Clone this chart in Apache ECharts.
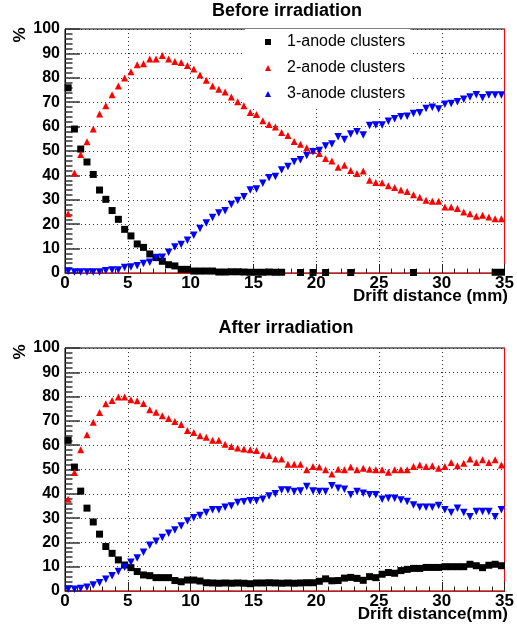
<!DOCTYPE html>
<html>
<head>
<meta charset="utf-8">
<script src="https://cdn.jsdelivr.net/npm/echarts@6/dist/echarts.min.js"></script>
<style>
  body { margin: 0; background: #fff; }
  #chart { width: 517px; height: 628px; }
</style>
</head>
<body>
<div id="chart"></div>
<script>
// bin centres of the drift distance histogram (mm)
const binCenters = [
  0.25, 0.75, 1.25, 1.75, 2.25, 2.75, 3.25, 3.75, 4.25, 4.75,
  5.25, 5.75, 6.25, 6.75, 7.25, 7.75, 8.25, 8.75, 9.25, 9.75,
  10.25, 10.75, 11.25, 11.75, 12.25, 12.75, 13.25, 13.75, 14.25, 14.75,
  15.25, 15.75, 16.25, 16.75, 17.25, 17.75, 18.25, 18.75, 19.25, 19.75,
  20.25, 20.75, 21.25, 21.75, 22.25, 22.75, 23.25, 23.75, 24.25, 24.75,
  25.25, 25.75, 26.25, 26.75, 27.25, 27.75, 28.25, 28.75, 29.25, 29.75,
  30.25, 30.75, 31.25, 31.75, 32.25, 32.75, 33.25, 33.75, 34.25, 34.75
]
const seriesNames = ['1-anode clusters', '2-anode clusters', '3-anode clusters']
const xTicks = [0, 5, 10, 15, 20, 25, 30, 35]
const yTicks = [0, 10, 20, 30, 40, 50, 60, 70, 80, 90, 100]

// before irradiation (%), null = empty bin
const beforeOne = [
  75.9, 59, 50.8, 45.5, 40.4, 34, 30.2, 25.6, 22, 17.9,
  15.2, 11.9, 10.5, 7.8, 6.3, 4.8, 3.4, 2.9, 1.5, 1.5,
  0.8, 0.8, 0.8, 0.8, 0.4, 0.4, 0.5, 0.5, 0.4, 0.3,
  0.3, 0.3, 0.4, 0.3, 0.3, null, null, 0.2, null, 0.2,
  null, 0.2, null, null, null, 0.2, null, null, null, null,
  null, null, null, null, null, 0.2, null, null, null, null,
  null, null, null, null, null, null, null, null, 0.3, 0.3
]
const beforeTwo = [
  24.3, 41, 48.6, 53.8, 59, 65.2, 68.5, 73.1, 76.6, 79.9,
  82.5, 85.3, 85.8, 87.7, 87.7, 89.1, 87.7, 86.7, 86.3, 85,
  83.6, 81.1, 79, 76.6, 75.3, 74.2, 72.1, 70.2, 68.5, 65.8,
  65, 62.4, 60.9, 59.8, 57.6, 56.4, 53.9, 52.8, 51.3, 50.2,
  49, 46.9, 45.9, 43.3, 44.2, 42, 40.8, 41.8, 38, 37.1,
  37, 35.8, 35, 34, 33.4, 32.1, 31, 29.8, 29.4, 29.4,
  27.1, 27.1, 26.4, 25, 24.3, 23.3, 23.7, 23, 22.2, 22.2
]
const beforeThree = [
  0.7, 0.4, 0.4, 0.4, 0.4, 0.4, 0.9, 1.2, 1.2, 2.3,
  2.5, 3, 3.9, 4.4, 6.4, 6.5, 8.5, 10.7, 11.7, 13.4,
  15.5, 18.2, 20.5, 22.7, 24.6, 25.5, 28.1, 29.7, 31.2, 34,
  34.4, 36.8, 39, 39.6, 42.2, 43.6, 45.6, 46.4, 48.2, 49.7,
  50.2, 52, 52.9, 55.8, 54.7, 57, 57.9, 56.6, 60.4, 60.7,
  60.7, 62.2, 63.2, 64, 64.2, 65.4, 65.7, 67.4, 67.9, 67.2,
  69.2, 69.5, 70.2, 71.2, 72.1, 73.1, 71.8, 72.9, 72.9, 72.9
]

// after irradiation (%)
const afterOne = [
  62, 51, 41.1, 34.1, 28.4, 23.4, 18.3, 15.5, 12.8, 10.7,
  9.6, 8, 6.6, 6.3, 5.5, 5.5, 5.5, 4.3, 3.8, 4.5,
  4.5, 4.1, 3.4, 3.3, 3.2, 3.3, 3.2, 3.3, 3.2, 3.0,
  3.3, 3.3, 3.4, 3.3, 3.2, 3.3, 3.2, 3.3, 3.4, 3.4,
  4.0, 5.0, 4.2, 4.3, 5.3, 5.6, 5.2, 4.4, 5.9, 5.5,
  6.9, 7.6, 7.3, 8.4, 8.9, 9.3, 9.3, 9.7, 9.7, 9.7,
  10, 10, 10, 10, 11, 10.4, 9.6, 10.6, 11, 10.4
]
const afterTwo = [
  37.8, 48.8, 58.1, 64.3, 69.4, 73.5, 77.1, 78.4, 79.8, 79.8,
  78.7, 78.3, 77.2, 74.6, 73.6, 72.1, 71, 69.8, 68.5, 66.1,
  65.2, 63.9, 63.3, 62, 62, 60.4, 59.5, 58.8, 58.4, 58.1,
  57.8, 56, 55.8, 54.3, 54.3, 52.2, 52.2, 52.2, 49.9, 51.2,
  51, 49.9, 48.1, 50.1, 49.9, 51, 49.9, 50.5, 50.1, 49.9,
  49.9, 48.9, 49.9, 49.9, 49.9, 51.2, 51.9, 51.2, 51.5, 50.5,
  51.2, 52.9, 51.5, 52.6, 54.3, 52.9, 54, 52.9, 54, 51.9
]
const afterThree = [
  0.7, 0.7, 1, 1.5, 2.5, 3.4, 4.8, 6.3, 8, 9.8,
  11.8, 13.6, 15.9, 18.8, 20.5, 22, 23.8, 25.1, 26.8, 28.8,
  30.1, 31.1, 32.3, 33.4, 33.4, 34.5, 35, 36.4, 36.7, 37.1,
  37.1, 37.8, 39.1, 40, 41.6, 41.6, 40.9, 41.2, 43, 41.2,
  40.9, 40.9, 43.3, 42.3, 41.9, 39.6, 40.9, 40.2, 39.6, 39.6,
  37.8, 38.2, 38.2, 37.5, 36.8, 35.4, 34.5, 34.5, 34.5, 35.2,
  33.4, 32.3, 34.1, 32.3, 30.6, 32.7, 32.7, 32.7, 30.6, 33.4
]

const FONT = 'Liberation Sans, Arial, Helvetica, sans-serif'
const dotted = { color: '#333', width: 1, type: [1, 3] }
const markers = [
  { symbol: 'rect', size: 7, rotate: 0, color: '#000000' },
  { symbol: 'triangle', size: 7, rotate: 0, color: '#ff0000' },
  { symbol: 'triangle', size: 7.5, rotate: 180, color: '#0000ff' }
]

function toPoints (values) {
  return binCenters
    .map((x, i) => [x, values[i]])
    .filter(p => p[1] !== null)
}

function xAxisFor (gridIndex) {
  return {
    type: 'value',
    gridIndex: gridIndex,
    min: xTicks[0],
    max: xTicks[xTicks.length - 1],
    interval: xTicks[1] - xTicks[0],
    axisLine: { show: true, onZero: false, lineStyle: { color: '#ff0000', width: 1 } },
    axisTick: { show: true, inside: true, length: 9, lineStyle: { color: '#222', width: 1 } },
    minorTick: { show: true, splitNumber: 5, length: 4.5, lineStyle: { color: '#222', width: 1 } },
    splitLine: { show: true, lineStyle: dotted },
    axisLabel: { margin: 2, color: '#000', fontSize: 17, fontWeight: 'bold', fontFamily: FONT }
  }
}

function yAxesFor (gridIndex) {
  return [
    {
      type: 'value',
      gridIndex: gridIndex,
      min: yTicks[0],
      max: yTicks[yTicks.length - 1],
      interval: yTicks[1] - yTicks[0],
      axisLine: { show: true, onZero: false, lineStyle: { color: '#000', width: 1 } },
      axisTick: { show: true, inside: true, length: 15, lineStyle: { color: '#333', width: 1.5 } },
      minorTick: { show: true, splitNumber: 5, length: 7.5, lineStyle: { color: '#333', width: 1.5 } },
      splitLine: { show: true, lineStyle: dotted },
      axisLabel: { margin: 5, color: '#000', fontSize: 16, fontWeight: 'bold', fontFamily: FONT }
    },
    {
      type: 'value',
      gridIndex: gridIndex,
      position: 'right',
      min: 0,
      max: 100,
      axisLine: { show: true, onZero: false, lineStyle: { color: '#ff0000', width: 1 } },
      axisTick: { show: false },
      axisLabel: { show: false },
      splitLine: { show: false }
    }
  ]
}

function panelSeries (gridIndex, valueSets) {
  return valueSets.map((values, k) => ({
    name: seriesNames[k],
    type: 'scatter',
    xAxisIndex: gridIndex,
    yAxisIndex: gridIndex * 2,
    symbol: markers[k].symbol,
    symbolSize: markers[k].size,
    symbolRotate: markers[k].rotate,
    itemStyle: { color: markers[k].color, opacity: 1 },
    emphasis: { disabled: true },
    data: toPoints(values)
  }))
}

function label (text, x, y, size, align, rotation) {
  return {
    type: 'text',
    x: x,
    y: y,
    rotation: rotation || 0,
    z: 10,
    style: {
      text: text,
      fill: '#000',
      font: 'bold ' + size + 'px ' + FONT,
      textAlign: align,
      textVerticalAlign: 'middle'
    }
  }
}

const options = {
  animation: false,
  backgroundColor: '#fff',
  grid: [
    { left: 65, top: 29, width: 443, height: 244, show: true, borderColor: '#000', borderWidth: 1 },
    { left: 65, top: 348, width: 443, height: 243, show: true, borderColor: '#000', borderWidth: 1 }
  ],
  xAxis: [xAxisFor(0), xAxisFor(1)],
  yAxis: yAxesFor(0).concat(yAxesFor(1)),
  legend: {
    data: seriesNames,
    orient: 'vertical',
    left: 245,
    top: 29,
    padding: [5, 5, 4, 20],
    itemGap: 10,
    itemWidth: 6,
    itemHeight: 6,
    backgroundColor: '#fff',
    selectedMode: false,
    textStyle: { color: '#000', fontSize: 16, fontFamily: FONT, padding: [0, 0, 0, 11] }
  },
  graphic: [
    label('Before irradiation', 287, 11, 18, 'center'),
    label('After irradiation', 286, 328, 18, 'center'),
    label('%', 20, 35, 17, 'center', Math.PI / 2),
    label('%', 20, 352, 17, 'center', Math.PI / 2),
    label('Drift distance (mm)', 508, 296, 17, 'right'),
    label('Drift distance(mm)', 508, 614, 17, 'right')
  ],
  series: panelSeries(0, [beforeOne, beforeTwo, beforeThree])
    .concat(panelSeries(1, [afterOne, afterTwo, afterThree]))
}

const chart = echarts.init(document.getElementById('chart'))
chart.setOption(options)
</script>
</body>
</html>
